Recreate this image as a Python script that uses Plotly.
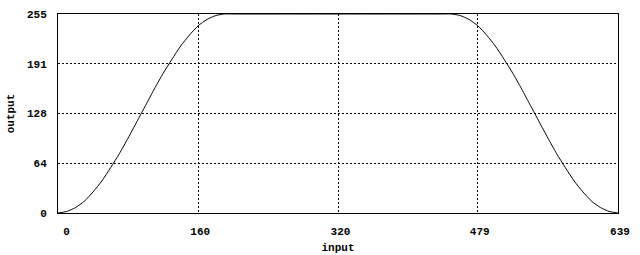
import plotly.graph_objects as go

# values
input_x = [0, 10, 20, 30, 40, 50, 60, 70, 80, 90, 100, 110, 120, 130, 140, 150, 160, 170, 180, 190,
           200, 230, 260, 290, 320, 350, 380, 410, 439,
           449, 459, 469, 479, 489, 499, 509, 519, 529, 539, 549, 559, 569, 579, 589, 599, 609, 619, 629, 639]
output_y = [0, 2, 7, 15, 27, 41, 58, 76, 96, 117, 138, 159, 179, 197, 214, 228, 240, 248, 253, 255,
            255, 255, 255, 255, 255, 255, 255, 255, 255,
            255, 253, 248, 240, 228, 214, 197, 179, 159, 138, 117, 96, 76, 58, 41, 27, 15, 7, 2, 0]

x_tick_vals = [0, 160, 320, 479, 639]
x_tick_text = ["\u00a0\u00a00", "160", "320", "479", "639"]
y_tick_vals = [0, 64, 128, 191, 255]
y_tick_text = ["0", "64", "128", "191", "255"]

font = dict(family="Liberation Mono", size=11, color="black", weight="bold")

fig = go.Figure()
fig.add_trace(go.Scatter(x=input_x, y=output_y, mode="lines",
                         line=dict(color="black", width=1, shape="spline", smoothing=0.6),
                         showlegend=False, hoverinfo="skip"))

fig.update_layout(
    width=640, height=255,
    margin=dict(l=58, r=22, t=14, b=42, autoexpand=False),
    paper_bgcolor="white", plot_bgcolor="white",
    font=font,
)
fig.update_xaxes(
    range=[0, 639], tickmode="array", tickvals=x_tick_vals, ticktext=x_tick_text,
    showline=True, linecolor="black", linewidth=1, mirror=True,
    showgrid=True, gridcolor="black", gridwidth=1, griddash="2px,2px",
    zeroline=False, ticks="", ticklabelstandoff=8, ticklabelshift=2, automargin=False,
    tickfont=font, title=dict(text="input", font=font, standoff=6),
)
fig.update_yaxes(
    range=[0, 255], tickmode="array", tickvals=y_tick_vals, ticktext=y_tick_text,
    showline=True, linecolor="black", linewidth=1, mirror=True,
    showgrid=True, gridcolor="black", gridwidth=1, griddash="2px,2px",
    zeroline=False, ticks="", ticklabelstandoff=8, automargin=False,
    tickfont=font, title=dict(text="output", font=font, standoff=10),
)

fig.write_html("out.html")
